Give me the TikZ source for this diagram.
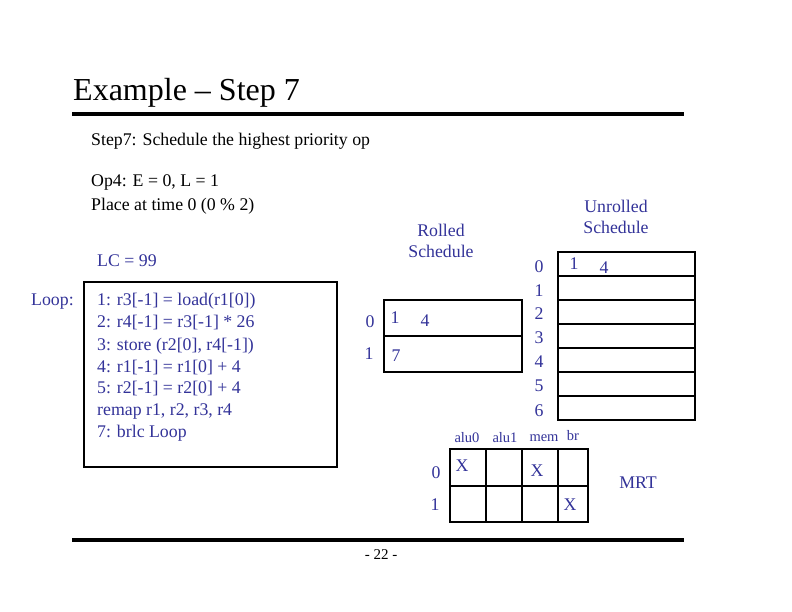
\documentclass[tikz,border=0pt]{standalone}
\usepackage{fontspec}
\setmainfont{Liberation Serif}
\definecolor{navy}{RGB}{51,51,153}
\begin{document}
\begin{tikzpicture}[x=1pt,y=-1pt,
  txt/.style={inner sep=0pt,anchor=west,font=\fontsize{17.8}{20}\selectfont},
  btxt/.style={txt,text=navy},
  ctxt/.style={inner sep=0pt,anchor=center,font=\fontsize{17.8}{20}\selectfont,text=navy},
  small/.style={inner sep=0pt,anchor=center,font=\fontsize{14.5}{16}\selectfont,text=navy},
  tab/.style={line width=1.8pt},
  rule/.style={line width=4pt}]
\useasboundingbox[fill=white] (0,0) rectangle (792,612);
% title
\node[inner sep=0pt,anchor=west,font=\fontsize{32}{36}\selectfont] (title) at (73,93) {Example – Step 7};
\draw[rule] (72,114.5) -- (684,114.5);
\draw[rule] (72,540) -- (684,540);
\node[inner sep=0pt,font=\fontsize{15}{17}\selectfont] (page) at (381,555) {- 22 -};
% text
\node[txt] (s7) at (91,141) {Step7: Schedule the highest priority op};
\node[txt] (op4) at (91,182) {Op4: E = 0, L = 1};
\node[txt] (place) at (91,206) {Place at time 0 (0 \% 2)};
\node[btxt] (lc) at (97,261) {LC = 99};
\node[btxt] (loop) at (31,302) {Loop:};
% code box
\draw[tab] (84,282) rectangle (337,467);
\node[btxt] (c1) at (97,301) {1: r3[-1] = load(r1[0])};
\node[btxt] (c2) at (97,323) {2: r4[-1] = r3[-1] * 26};
\node[btxt] (c3) at (97,346) {3: store (r2[0], r4[-1])};
\node[btxt] (c4) at (97,368) {4: r1[-1] = r1[0] + 4};
\node[btxt] (c5) at (97,389) {5: r2[-1] = r2[0] + 4};
\node[btxt] (c6) at (97,411) {remap r1, r2, r3, r4};
\node[btxt] (c7) at (97,433) {7: brlc Loop};
% rolled schedule
\node[ctxt,align=center,font=\fontsize{17.8}{21}\selectfont] (rolled) at (441,241) {Rolled\\Schedule};
\draw[tab] (384,300) rectangle (522,372);
\draw[tab] (384,336) -- (522,336);
\node[ctxt] (r0) at (370,322) {0};
\node[ctxt] (r1) at (369,354) {1};
\node[ctxt] (re1) at (395,318) {1};
\node[ctxt] (re4) at (425,321) {4};
\node[ctxt] (re7) at (396,356) {7};
% unrolled schedule
\node[ctxt,align=center,font=\fontsize{17.8}{21}\selectfont] (unrolled) at (616,217) {Unrolled\\Schedule};
\draw[tab] (558,252) rectangle (695,420);
\foreach \yy in {276,300,324,348,372,396} \draw[tab] (558,\yy) -- (695,\yy);
\foreach \i/\yy in {0/267,1/291,2/314,3/338,4/362,5/386,6/411}
  \node[ctxt] (u\i) at (539,\yy) {\i};
\node[ctxt] (ue1) at (574,264) {1};
\node[ctxt] (ue4) at (604,268) {4};
% MRT
\node[small] (alu0) at (467,438) {alu0};
\node[small] (alu1) at (505,438) {alu1};
\node[small] (mem) at (544,438) {mem};
\node[small] (br) at (573,436) {br};
\draw[tab] (450,449) rectangle (588,522);
\draw[tab] (450,486) -- (588,486);
\foreach \xx in {486,522,558} \draw[tab] (\xx,449) -- (\xx,522);
\node[ctxt] (m0) at (436,473) {0};
\node[ctxt] (m1) at (435,505) {1};
\node[ctxt] (x1) at (462,466) {X};
\node[ctxt] (x2) at (537,471) {X};
\node[ctxt] (x3) at (570,505) {X};
\node[ctxt] (mrt) at (638,483) {MRT};
\end{tikzpicture}
\end{document}
